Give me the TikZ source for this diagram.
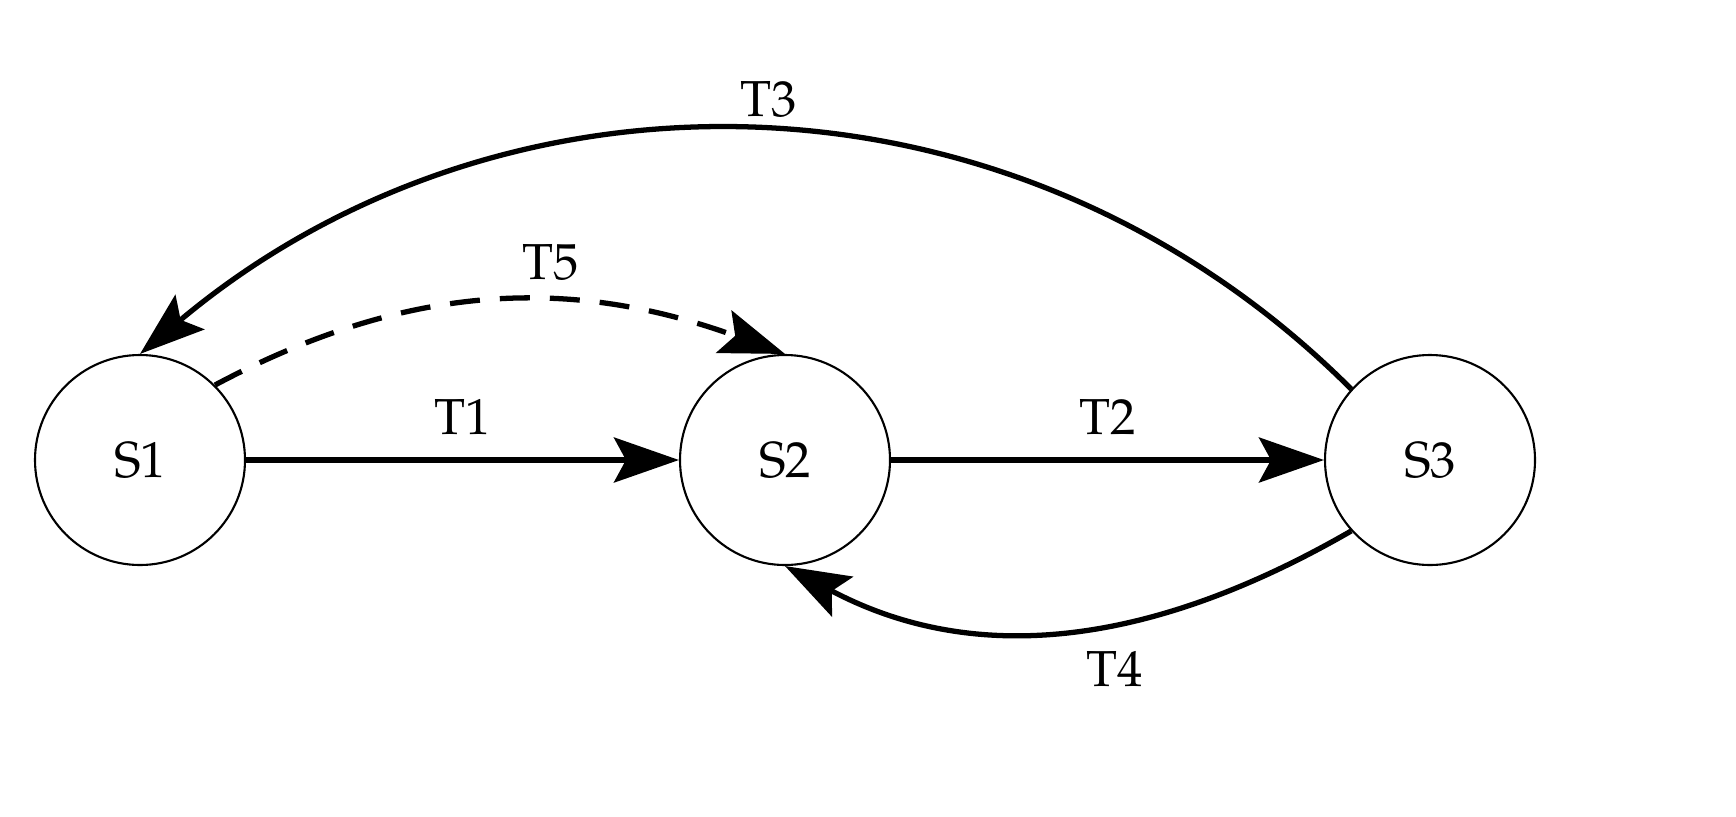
\documentclass[tikz,border=0pt]{standalone}
\usepackage[T1]{fontenc}
\usepackage{mathpazo}
\usetikzlibrary{arrows.meta}
\tikzset{state/.style={draw, circle, line width=0.6pt, minimum size=2.1cm, font=\Large},
  trans/.style={line width=1.5pt, -{Stealth[length=6.5mm,width=4.5mm,inset=1.2mm]}},
  lbl/.style={font=\Large}}
\begin{document}
\begin{tikzpicture}
    \node [state] (s1) at (1.4,3.56) {S1};
    \node [state] (s2) at (7.85,3.56) {S2};
    \node [state] (s3) at (14.3,3.56) {S3};
    \draw [trans] (s1) -- node [lbl, above=3pt, pos=0.5] {T1} (s2);
    \draw [trans] (s2) -- node [lbl, above=3pt, pos=0.5] {T2} (s3);
    \draw [trans] (s3.138) to [out=135, in=40] node [lbl, pos=0.49, above=0pt] {T3} (s1.90);
    \draw [trans, dash pattern=on 3mm off 2mm] (s1.45) to [out=28, in=160] node [lbl, pos=0.6, above=2pt] {T5} (s2.90);
    \draw [trans] (s3.-138) to [out=-150, in=-28] node [lbl, pos=0.42, below=4pt] {T4} (s2.-90);
    \pgfresetboundingbox
    \useasboundingbox (0,0) rectangle (17.36,8.16);
\end{tikzpicture}
\end{document}
